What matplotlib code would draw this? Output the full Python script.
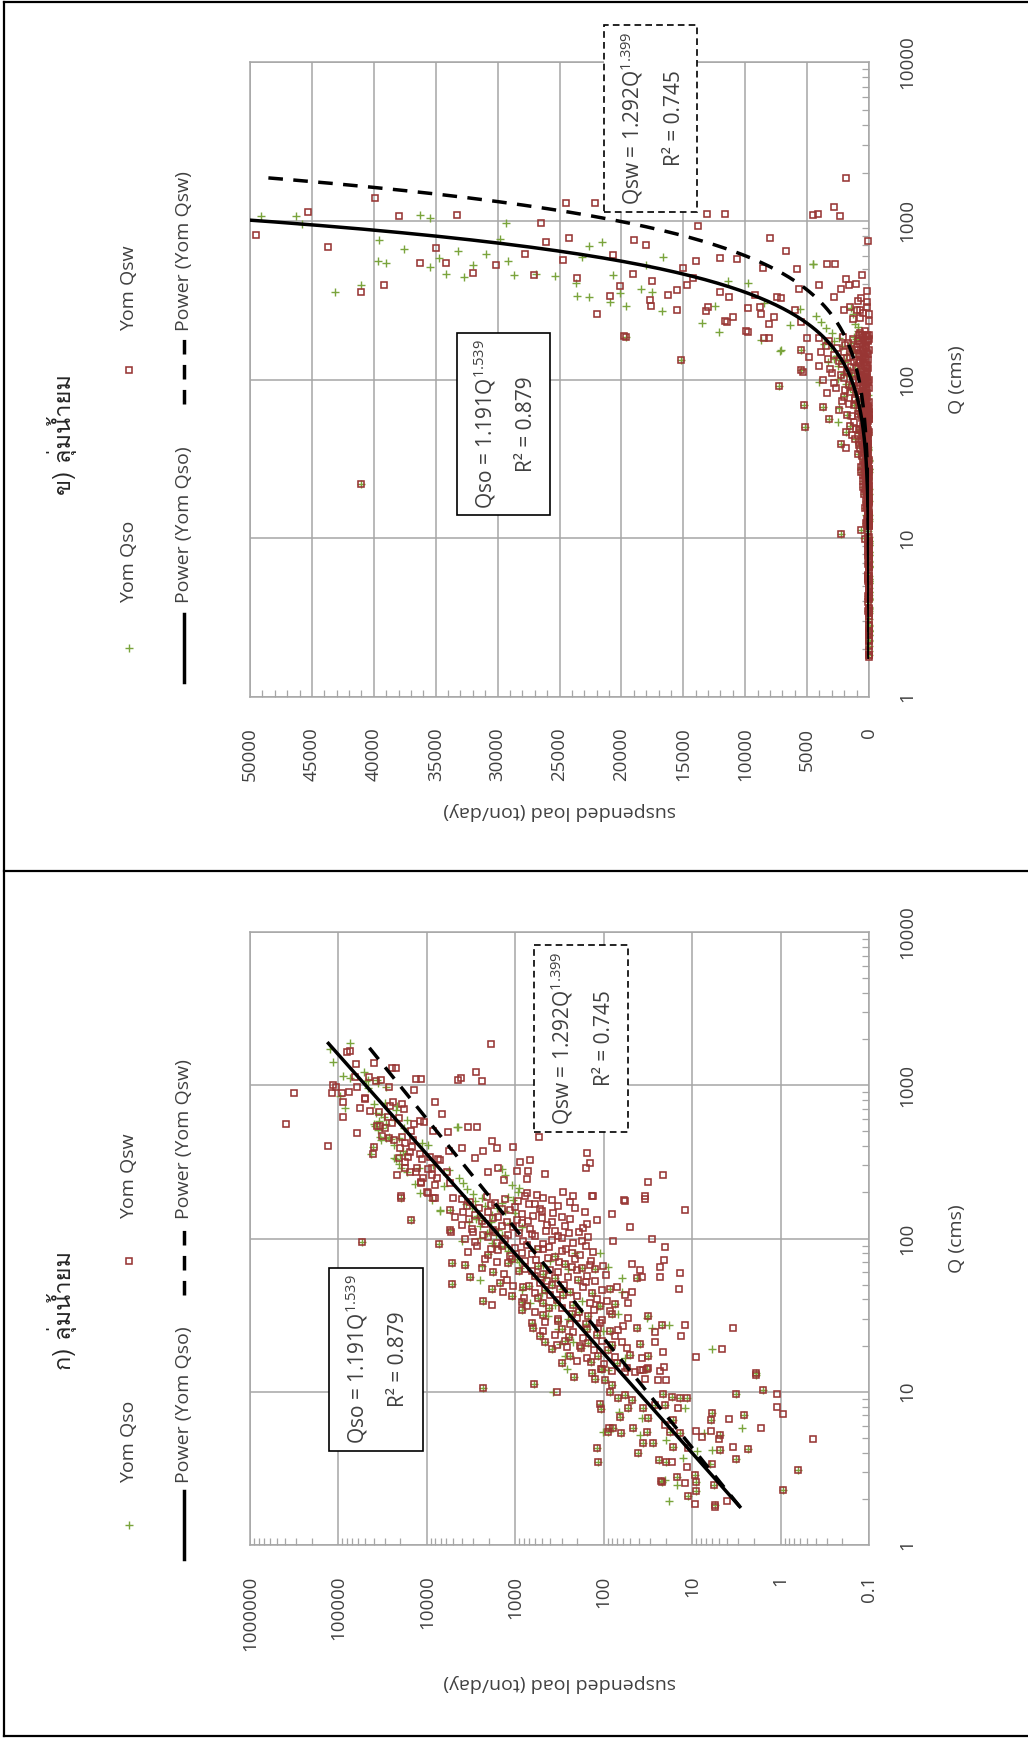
import numpy as np
import matplotlib
matplotlib.use("Agg")
import matplotlib.pyplot as plt
from matplotlib import font_manager, ticker
from matplotlib.ft2font import FT2Font
from matplotlib.patches import Rectangle
from matplotlib.lines import Line2D

W, H, DPI = 1028, 1738, 100

# ---------------- data: (Q [cms], suspended load [ton/day]) ----------------
# samples where only the Yom Qso value is visible
qso_only = [
    (1720, 124000), (1875, 74000), (1410, 116000), (1150, 88000), (1110, 74000),
    (855, 96000), (706, 84000), (1225, 52000),
    (1070, 49100), (1075, 46300), (955, 45800), (356, 43100), (394, 41000),
    (757, 39600), (557, 39700), (542, 39000), (664, 37600), (1087, 36300),
    (1040, 35500), (512, 35500), (582, 34700), (462, 34200), (645, 33200),
    (442, 32700), (526, 32000), (618, 30900), (767, 29800), (557, 29200),
    (968, 29300), (455, 28700), (462, 26900), (449, 25400), (405, 23700),
    (336, 23600), (331, 22600), (591, 23200), (693, 22600), (735, 21600),
    (308, 20900), (351, 20100), (290, 19600), (455, 20700), (372, 18400),
    (526, 18000), (356, 17500), (270, 16700), (591, 16600), (227, 13500),
    (199, 12100), (290, 12400), (417, 11400), (405, 9770), (303, 8480),
    (151, 7190), (177, 8720), (220, 6380), (278, 5570), (534, 4520),
    (537, 4490), (284, 1430), (202, 925), (250, 4300), (230, 3900), (210, 3500),
    (195, 3000), (260, 1300), (225, 1100), (215, 900), (153, 7100),
    (27.3, 18.1), (18.9, 6.03), (10.0, 372), (7.41, 67.1), (6.71, 37.2),
    (5.23, 38.9), (5.5, 101), (5.77, 2.76), (5.36, 7.35), (4.17, 6.03),
    (1.94, 18.1), (2.46, 15.0), (3.68, 12.6), (2.66, 20.3), (4.10, 8.89),
    (3.40, 6.30), (4.84, 19.5), (7.87, 12.1),
    (176, 2860), (183, 2400), (171, 1430), (186, 1200), (179, 1050),
    (143, 1850), (151, 1310), (146, 1010), (121, 2510), (114, 1560),
    (126, 1150), (118, 847), (96, 4050), (101, 2510), (94, 1850),
    (83, 1200), (77, 356), (81, 211), (80, 110), (79, 2020),
    (64, 885), (67, 482), (63, 251), (65, 88.7), (66, 2400),
    (54, 2510), (56, 461), (55, 62.7), (46, 847), (44, 504), (47, 299),
    (45, 62.7), (38, 682), (37, 356), (39, 178), (36.5, 115),
    (31, 424), (30, 251), (32, 68.4), (30.5, 32.7), (25.5, 327),
    (24.8, 101), (26, 28.7), (20.5, 313), (21, 221), (17, 274),
    (16.7, 57.5), (14, 262), (13.8, 88.7),
    (168, 3600), (158, 3100), (140, 2700), (132, 2350), (128, 3300),
    (110, 2000), (105, 1650), (88, 1300), (90, 1700), (72, 1100), (70, 900),
    (162, 2200), (157, 1600), (134, 2800), (129, 1900), (109, 2100),
    (106, 1400), (89, 1500), (86, 600), (73, 950), (71, 400),
]

# samples where only the Yom Qsw value is visible
qsw_only = [
    (1670, 74000), (1640, 79000), (1370, 63200), (1140, 65000), (1010, 114000),
    (980, 107000), (885, 119000), (885, 92000), (908, 75000), (980, 61000),
    (893, 316000), (561, 392000), (399, 132000), (781, 88000), (624, 89600),
    (714, 57000), (485, 62200), (830, 50100),
    (813, 49500), (1135, 45300), (684, 43700), (356, 41000), (1390, 39900),
    (394, 39200), (1072, 38000), (542, 36300), (673, 35000), (542, 34200),
    (1087, 33300), (469, 32000), (526, 30100), (618, 27800), (455, 27100),
    (968, 26500), (735, 26100), (566, 24700), (1294, 24500), (778, 24200),
    (436, 23600), (1294, 22100), (336, 20900), (608, 20700), (462, 19100),
    (757, 19000), (703, 18000), (290, 17600), (417, 17500), (341, 16200),
    (504, 15000), (394, 14700), (557, 14000), (927, 13800), (270, 13200),
    (1102, 13100), (1102, 11600), (582, 12000), (234, 11600), (331, 11300),
    (248, 11000), (574, 10700), (282, 9770), (199, 9770), (259, 8720),
    (778, 8000), (248, 7670), (331, 7430), (645, 6700), (497, 5820),
    (372, 5650), (111, 5330),
    (387, 20100), (368, 15500), (354, 12000), (342, 9230), (325, 7110),
    (317, 17700), (287, 13000), (287, 8830), (273, 5970), (229, 11500),
    (223, 8090), (229, 5470), (188, 19800), (202, 9950), (183, 8090),
    (183, 5020), (259, 22000), (273, 15500), (439, 14200), (502, 8590),
    (1850, 1880), (1220, 2800), (1070, 2360), (1110, 4110), (1080, 4500),
    (750, 115), (537, 3400), (537, 2740), (457, 540), (392, 4040),
    (432, 1820), (392, 1630), (397, 1050), (372, 2300), (360, 156),
    (309, 143), (287, 160), (325, 682), (314, 885), (275, 724), (244, 745),
    (262, 461), (275, 966), (287, 1560), (273, 2020), (333, 2860),
    (241, 1330), (202, 286), (188, 221), (190, 131), (178, 58.5),
    (190, 34.2), (235, 31.3), (259, 21.2), (197, 745), (192, 573),
    (139, 4810), (183, 8450),
    (154, 11.9), (88.5, 20.3), (72.1, 20.8), (59.6, 13.7), (56.4, 23.1),
    (46.9, 14.1), (27.3, 11.9), (23.0, 13.2), (26.2, 3.43), (18.9, 4.65),
    (16.8, 9.14), (18.1, 21.6), (14.6, 20.8),
    (9.9, 340), (13.5, 44.3), (13.9, 35.6), (14.2, 31.3), (11.9, 24.1),
    (13.5, 57.5), (12.2, 34.2),
    (9.62, 1.11), (7.91, 1.09), (7.12, 0.93), (4.92, 0.427), (5.77, 1.67),
    (6.64, 3.80), (5.55, 6.12), (5.55, 9.06), (5.09, 7.82), (4.39, 3.43),
    (4.92, 4.93), (3.36, 6.03), (2.52, 12.1), (1.85, 9.29), (1.94, 4.07),
    (3.24, 11.5), (3.50, 17.1), (4.27, 11.1), (6.07, 20.3), (7.87, 14.4),
    (11.9, 19.5), (1.78, 5.5),
    (182, 4050), (174, 3250), (186, 2110), (170, 1700), (180, 1310),
    (176, 925), (190, 776), (168, 598), (184, 482), (178, 388), (172, 241),
    (188, 137), (176, 57.5), (181, 34.2),
    (150, 3870), (142, 2860), (148, 2020), (139, 1560), (153, 1150),
    (145, 847), (141, 625), (152, 504), (147, 372), (138, 299), (149, 163),
    (144, 81.3),
    (122, 4050), (116, 3120), (125, 2200), (113, 1770), (120, 1430),
    (118, 1050), (127, 847), (115, 682), (123, 442), (112, 356), (121, 274),
    (117, 170), (124, 156), (119, 50.5),
    (100, 3710), (95, 2860), (102, 2020), (93, 1630), (99, 1310), (96, 811),
    (104, 598), (92, 482), (98, 388), (101, 299), (94, 221), (97, 178),
    (103, 149), (96, 78.0), (99, 28.7),
    (82, 3400), (78, 2020), (84, 1560), (77, 1150), (81, 847), (79, 653),
    (85, 482), (76, 356), (83, 299), (80, 231), (78, 185), (82, 131),
    (64, 2400), (63, 776), (62, 406), (65, 231), (67, 143), (66, 101),
    (68, 48.3), (62, 38.9), (65, 23.1),
    (54, 1250), (53, 442), (56, 251), (57, 156), (53, 126), (56, 37.2),
    (45, 1360), (44, 598), (47, 313), (48, 170), (46, 105), (45, 48.3),
    (37, 1850), (36.5, 745), (39.5, 340), (38, 143), (39, 92.7), (38, 52.7),
    (30, 327), (30.5, 202), (29.5, 105), (30.5, 52.7),
    (25, 482), (24.5, 221), (26.2, 115), (25.3, 68.4), (24.6, 26.3),
    (20.3, 340), (20, 185), (21.5, 105), (21, 62.7), (21.2, 26.3),
    (16.6, 156), (16.8, 74.6), (16.5, 37.2),
    (13.7, 81.3), (13.8, 38.9), (13.6, 23.1),
    (163, 3500), (158, 2600), (165, 1900), (156, 1400), (161, 1000),
    (167, 700), (155, 520), (162, 330), (159, 210),
    (134, 3300), (130, 2400), (136, 1800), (128, 1250), (133, 950),
    (131, 720), (137, 500), (129, 380), (135, 240), (132, 120),
    (110, 3000), (106, 2300), (111, 1700), (105, 1200), (109, 900),
    (107, 640), (112, 450), (104, 330), (108, 250), (110, 190),
    (89, 2700), (86, 1900), (90, 1400), (87, 1000), (91, 740),
    (85, 560), (88, 420), (86, 270), (90, 160),
    (73, 2200), (70, 1600), (74, 1100), (71, 780), (72, 580),
    (75, 430), (70, 320), (73, 210), (71, 140),
    (59, 1350), (61, 650), (60, 330), (62, 200), (58, 95),
    (49, 1050), (51, 520), (50, 280), (52, 160), (48, 70),
    (41, 800), (43, 400), (42, 200), (40, 120), (43, 58),
    (33, 600), (35, 300), (34, 130), (33.5, 85),
    (28.5, 460), (27.5, 240), (28, 110), (27, 60),
    (23.5, 360), (22.5, 170), (23, 75),
    (19.5, 260), (18.8, 130), (19.2, 55),
    (15.8, 200), (15.2, 100),
]

# samples where Qso and Qsw coincide (plotted in both series)
both_same = [
    (185, 19600), (132, 15200), (95, 54600), (22, 41000), (91.6, 7230),
    (114, 5470), (68.9, 5250), (50.2, 5150), (153, 5470),
    (27.3, 22.1), (13.2, 1.90),
    (10.6, 2300), (11.3, 610), (12.4, 217), (13.2, 137), (12.2, 126),
    (11.9, 96.8), (14.1, 106), (8.28, 110), (7.68, 108), (5.83, 87.1),
    (5.77, 78), (5.50, 88.7), (4.31, 120), (3.50, 117), (5.36, 63.8),
    (5.77, 46.2), (4.60, 35.6), (4.60, 27.5), (3.96, 41.3), (5.50, 32.7),
    (2.62, 22.5), (3.59, 23.7), (11.1, 81.3), (10.0, 84.9), (9.06, 68.4),
    (9.53, 57.5), (8.83, 48.3), (6.87, 65.5), (7.80, 52.7), (7.80, 35.6),
    (6.71, 31.3), (8.19, 26.3),
    (12.9, 1.90), (10.2, 1.57), (9.62, 3.22), (3.08, 0.641), (2.29, 0.93),
    (7.05, 2.59), (7.23, 6.03), (6.55, 6.12), (5.23, 4.85), (4.23, 2.32),
    (4.17, 4.85), (3.62, 3.20), (2.86, 9.29), (2.59, 9.14), (2.25, 9.06),
    (2.46, 5.62), (2.09, 11.1), (1.83, 5.52), (2.79, 15.0), (3.50, 19.5),
    (2.59, 22.1), (4.39, 16.3), (5.36, 13.7), (5.50, 17.8), (9.06, 11.5),
    (9.06, 13.7), (9.29, 17.1), (9.62, 21.2), (8.19, 20.3), (6.55, 16.3),
    (67, 3710), (69, 1200), (66, 550), (68, 274), (64, 178), (63, 126),
    (56, 3250), (57, 598), (55, 356), (54, 194), (55, 42.5),
    (47, 1850), (48, 811), (46, 461), (45, 241), (44, 137), (47, 84.9),
    (39, 2300), (38.5, 847), (38, 482), (37, 221), (36, 110), (37.5, 74.6),
    (31.5, 482), (32, 231), (31, 149), (32, 81.3), (31, 31.3),
    (26, 625), (25.8, 299), (25.5, 156), (24.8, 84.9), (26, 42.5),
    (21, 461), (21.3, 274), (20.8, 149), (20.2, 81.3), (20.5, 38.9),
    (17.2, 241), (17, 115), (17.3, 50.5), (17.1, 31.3),
    (14.1, 105), (14.2, 55.1), (14, 32.7),
    (60, 1800), (61, 900), (59, 480), (51, 1500), (49, 700), (50, 380),
    (42, 1100), (41, 560), (43, 290), (34, 850), (35, 420), (33, 190),
    (28, 650), (29, 330), (27.5, 160), (23, 520), (22.8, 250), (23.3, 120),
    (19, 380), (19.4, 180), (18.7, 90), (15.5, 300), (15.7, 140), (15.3, 70),
]

# power-law trendlines  Qs = a * Q^b, with R^2
fit_qso = (1.191, 1.539, 0.879)
fit_qsw = (1.292, 1.399, 0.745)

series_names = ["Yom Qso", "Yom Qsw", "Power (Yom Qso)", "Power (Yom Qsw)"]
panel_titles = ["ข) ลุ่มน้ำยม", "ก) ลุ่มน้ำยม"]
q_ticks = [1, 10, 100, 1000, 10000]
lin_load_ticks = list(range(0, 50001, 5000))
log_load_ticks = [0.1, 1, 10, 100, 1000, 10000, 100000, 1000000]

# ---------------- styling ----------------
TEXT = "#404040"
GRID = "#a6a6a6"
GREEN = "#7aa43c"
RED = "#983634"


def family_with(ch):
    for f in font_manager.fontManager.ttflist:
        try:
            if FT2Font(f.fname).get_char_index(ord(ch)):
                return f.name
        except Exception:
            continue
    return None


BASE = "Open Sans"
thai_family = family_with("ล")
title_fams = [f for f in (thai_family, BASE, "DejaVu Sans") if f]

plt.rcParams["font.family"] = [BASE, "DejaVu Sans"]
plt.rcParams["mathtext.fontset"] = "custom"
plt.rcParams["mathtext.rm"] = BASE

so = np.array(qso_only + both_same)
sw = np.array(qsw_only + both_same)
q_all = np.concatenate([so[:, 0], sw[:, 0]])
q_line = np.geomspace(q_all.min(), q_all.max(), 400)

fig = plt.figure(figsize=(W / DPI, H / DPI), dpi=DPI)


def fx(x):
    return x / W


def fy(y):
    return 1 - y / H


def load_label(v, _):
    if v < 1 and v > 0:
        return f"{v:.1f}"
    return f"{v:.0f}"


def panel(rect, log_load, title, title_y, leg, boxes):
    x0, y0, x1, y1 = rect
    ax = fig.add_axes([fx(x0), fy(y1), (x1 - x0) / W, (y1 - y0) / H])
    ax.set_yscale("log")
    ax.set_ylim(1, 10000)
    if log_load:
        ax.set_xscale("log")
        ax.set_xlim(1e6, 0.1)
        ax.xaxis.set_major_locator(ticker.FixedLocator(log_load_ticks))
        ax.xaxis.set_minor_locator(ticker.LogLocator(base=10, subs=np.arange(2, 10), numticks=20))
        mask_so = np.ones(len(so), bool)
        mask_sw = np.ones(len(sw), bool)
    else:
        ax.set_xlim(50000, 0)
        ax.xaxis.set_major_locator(ticker.FixedLocator(lin_load_ticks))
        ax.xaxis.set_minor_locator(ticker.MultipleLocator(1000))
        mask_so = so[:, 1] <= 50000
        mask_sw = sw[:, 1] <= 50000
    ax.xaxis.set_major_formatter(ticker.FuncFormatter(load_label))
    ax.yaxis.set_major_locator(ticker.FixedLocator(q_ticks))
    ax.yaxis.set_minor_locator(ticker.LogLocator(base=10, subs=np.arange(2, 10), numticks=20))
    ax.yaxis.set_major_formatter(ticker.FuncFormatter(lambda v, _: f"{v:.0f}"))
    ax.yaxis.tick_right()
    ax.grid(True, which="major", color=GRID, lw=1.1)
    for s in ax.spines.values():
        s.set_color(GRID)
        s.set_linewidth(1.1)
    ax.tick_params(which="major", length=0, labelsize=13.5, labelcolor=TEXT)
    ax.tick_params(axis="x", which="major", pad=22, labelrotation=90)
    ax.tick_params(axis="y", which="major", pad=21, labelrotation=90)
    ax.tick_params(which="minor", direction="in", length=5, width=0.9, color=GRID)
    for lab in ax.get_yticklabels():
        lab.set_verticalalignment("center")
    ax.set_axisbelow(True)

    ax.plot(so[mask_so, 1], so[mask_so, 0], ls="none", marker="+", ms=6,
            mew=1.0, color=GREEN, clip_on=False, zorder=3)
    ax.plot(sw[mask_sw, 1], sw[mask_sw, 0], ls="none", marker="s", ms=4.2,
            mew=1.15, mfc="none", mec=RED, clip_on=False, zorder=4)
    a, b, _ = fit_qso
    ax.plot(a * q_line ** b, q_line, color="black", lw=2.5, zorder=5)
    a, b, _ = fit_qsw
    ax.plot(a * q_line ** b, q_line, color="black", lw=2.5,
            ls=(0, (4.2, 3.0)), zorder=5)

    cy = (y0 + y1) / 2
    fig.text(fx(957), fy(cy), "Q (cms)", rotation=90, ha="center", va="center",
             fontsize=14, color=TEXT)
    fig.text(fx((x0 + x1) / 2), fy(y1 + 114 if not log_load else y1 + 138),
             "suspended load (ton/day)", rotation=180, ha="center",
             va="center", fontsize=14, color=TEXT)
    fig.text(fx(62), fy(title_y), title, rotation=90, ha="center", va="center",
             fontsize=17, color="#262626", family=title_fams)

    # legend, two columns of entries laid along the rotated frame
    (ya_sym, ya_txt), (yb_sym, yb_txt) = leg
    fig.add_artist(Line2D([fx(129)], [fy(ya_sym)], marker="+", ms=6, mew=1.0,
                          color=GREEN, transform=fig.transFigure))
    fig.add_artist(Line2D([fx(129)], [fy(yb_sym)], marker="s", ms=4.2, mew=1.15,
                          mfc="none", mec=RED, transform=fig.transFigure))
    fig.add_artist(Line2D([fx(184), fx(184)], [fy(ya_sym + 34), fy(ya_sym - 34)],
                          color="black", lw=2.5, transform=fig.transFigure))
    fig.add_artist(Line2D([fx(184), fx(184)], [fy(yb_sym + 34), fy(yb_sym - 34)],
                          color="black", lw=2.5, ls=(0, (4.2, 3.0)),
                          transform=fig.transFigure))
    for xx, yy, txt in ((129, ya_txt, series_names[0]), (129, yb_txt, series_names[1]),
                        (184, ya_txt, series_names[2]), (184, yb_txt, series_names[3])):
        fig.text(fx(xx), fy(yy), txt, rotation=90, rotation_mode="anchor",
                 ha="left", va="center", fontsize=14, color=TEXT)

    # equation boxes
    for (bx0, by0, bx1, by1), fit, name, dashed in boxes:
        a, b, r2 = fit
        fig.add_artist(Rectangle((fx(bx0), fy(by1)), (bx1 - bx0) / W, (by1 - by0) / H,
                                 transform=fig.transFigure, facecolor="white",
                                 edgecolor="black", lw=1.2,
                                 ls=(0, (4, 2.5)) if dashed else "-", zorder=6))
        byc = (by0 + by1) / 2
        fig.text(fx(bx0 + 28), fy(byc),
                 f"{name} = {a:.3f}Q$^{{\\mathregular{{{b:.3f}}}}}$",
                 rotation=90, ha="center", va="center", fontsize=15,
                 color=TEXT, zorder=7)
        fig.text(fx(bx0 + 70), fy(byc), f"R² = {r2:.3f}", rotation=90,
                 ha="center", va="center", fontsize=15, color=TEXT, zorder=7)
    return ax


panel((250, 62, 869, 697), False, panel_titles[0], 435,
      ((648, 603), (370, 331)),
      [((457, 333, 550, 515), fit_qso, "Qso", False),
       ((604, 25, 697, 212), fit_qsw, "Qsw", True)])

panel((250, 932, 869, 1545), True, panel_titles[1], 1310,
      ((1525, 1483), (1261, 1219)),
      [((329, 1268, 423, 1451), fit_qso, "Qso", False),
       ((534, 945, 628, 1132), fit_qsw, "Qsw", True)])

# outer frame of the two-panel figure
for xs, ys in (([4, 4], [2, 1736]), ([4, W], [2, 2]), ([4, W], [871, 871]),
               ([4, W], [1736, 1736])):
    fig.add_artist(Line2D([fx(v) for v in xs], [fy(v) for v in ys], color="black",
                          lw=1.6, transform=fig.transFigure))

fig.savefig("out.png", dpi=DPI)
